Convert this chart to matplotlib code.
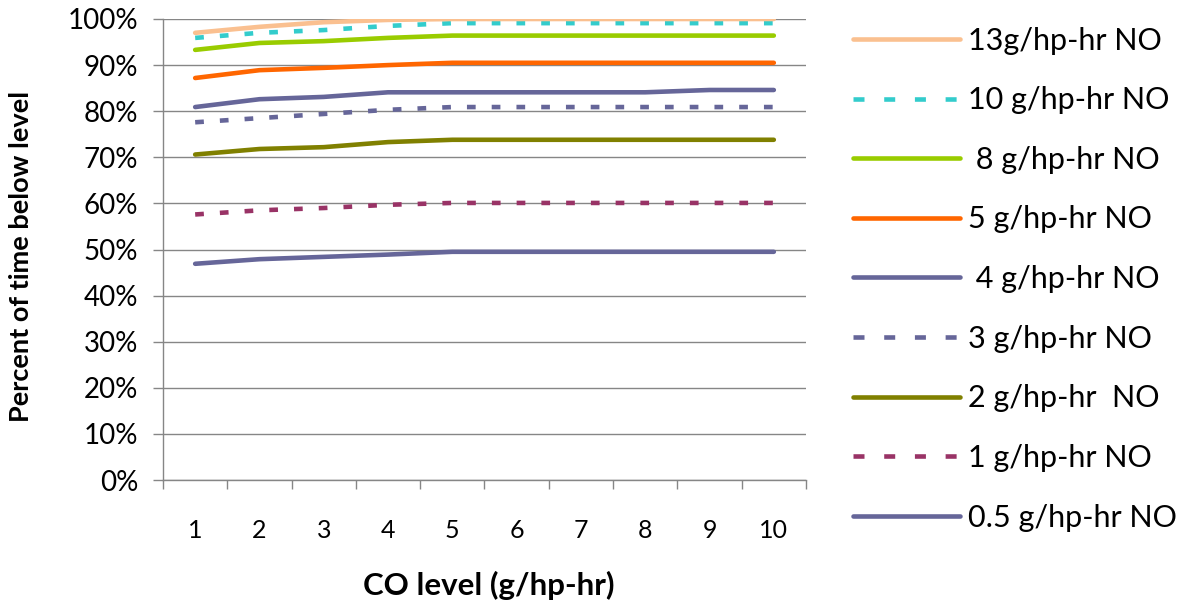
import numpy as np
import matplotlib.pyplot as plt
from matplotlib.lines import Line2D

plt.rcParams['font.family'] = ['Lato', 'DejaVu Sans']

co_level = [1, 2, 3, 4, 5, 6, 7, 8, 9, 10]

labels = ["13g/hp-hr NO", "10 g/hp-hr NO", " 8 g/hp-hr NO", "5 g/hp-hr NO",
          " 4 g/hp-hr NO", "3 g/hp-hr NO", "2 g/hp-hr  NO", "1 g/hp-hr NO",
          "0.5 g/hp-hr NO"]

no_13 = [97.0, 98.3, 99.3, 99.8, 100, 100, 100, 100, 100, 100]
no_10 = [95.9, 97.0, 97.6, 98.5, 99.1, 99.1, 99.1, 99.1, 99.1, 99.1]
no_8 = [93.3, 94.8, 95.2, 95.9, 96.4, 96.4, 96.4, 96.4, 96.4, 96.4]
no_5 = [87.2, 88.9, 89.4, 90.0, 90.5, 90.5, 90.5, 90.5, 90.5, 90.5]
no_4 = [80.9, 82.6, 83.1, 84.1, 84.1, 84.1, 84.1, 84.1, 84.6, 84.6]
no_3 = [77.6, 78.5, 79.4, 80.3, 80.9, 80.9, 80.9, 80.9, 80.9, 80.9]
no_2 = [70.6, 71.8, 72.2, 73.3, 73.8, 73.8, 73.8, 73.8, 73.8, 73.8]
no_1 = [57.6, 58.5, 59.0, 59.7, 60.1, 60.1, 60.1, 60.1, 60.1, 60.1]
no_05 = [46.9, 47.9, 48.4, 48.9, 49.5, 49.5, 49.5, 49.5, 49.5, 49.5]

series = [no_13, no_10, no_8, no_5, no_4, no_3, no_2, no_1, no_05]
colors = ["#FAC090", "#33CCCC", "#99CC00", "#FF6600", "#666699",
          "#666699", "#808000", "#993366", "#666699"]
dashed = [False, True, False, False, False, True, False, True, False]

fig = plt.figure(figsize=(11.83, 6.05), dpi=100)
ax = fig.add_axes([0.1378, 0.2066, 0.5435, 0.762])

lw = 3.3
for vals, c, d in zip(series[::-1], colors[::-1], dashed[::-1]):
    if d:
        ax.plot(co_level, vals, color=c, lw=lw, linestyle=(0, (1.9, 3.5)),
                dash_capstyle="butt")
    else:
        ax.plot(co_level, vals, color=c, lw=lw, solid_capstyle="round")

# legend handles, same order as the reference legend
handles = []
for c, d in zip(colors, dashed):
    if d:
        h = Line2D([], [], color=c, lw=lw, linestyle=(0.0, (2.4, 4.3)), dash_capstyle="butt")
    else:
        h = Line2D([], [], color=c, lw=lw, solid_capstyle="round")
    handles.append(h)

ax.set_xlim(0.5, 10.5)
ax.set_ylim(0, 100)
ax.set_yticks(np.arange(0, 101, 10))
ax.set_yticklabels([f"{v}%" for v in range(0, 101, 10)])
ax.set_xticks(co_level)
ax.set_xticks(np.arange(0.5, 10.6, 1), minor=True)
ax.tick_params(axis="x", which="major", length=0, pad=28, labelsize=18)
ax.tick_params(axis="x", which="minor", length=6.5, color="#868686", width=1)
ax.tick_params(axis="y", length=7, color="#868686", width=1, labelsize=20, pad=11)

ax.grid(axis="y", color="#868686", lw=1)
ax.set_axisbelow(True)
for s in ["top", "right"]:
    ax.spines[s].set_visible(False)
for s in ["left", "bottom"]:
    ax.spines[s].set_color("#868686")
    ax.spines[s].set_linewidth(1)

ax.set_xlabel("CO level (g/hp-hr)", fontsize=22.5, fontweight="bold", va="center")
ax.set_ylabel("Percent of time below level", fontsize=19.5, fontweight="bold", va="center")
ax.xaxis.set_label_coords(0.507, -0.228)
ax.yaxis.set_label_coords(-0.221, 0.486)

fig.legend(handles, labels, loc="upper left", bbox_to_anchor=(0.721, 0.956),
           frameon=False, fontsize=22, handlelength=3.5, handletextpad=0.26,
           labelspacing=1.035, borderpad=0, borderaxespad=0)

fig.savefig("out.png", dpi=100)
